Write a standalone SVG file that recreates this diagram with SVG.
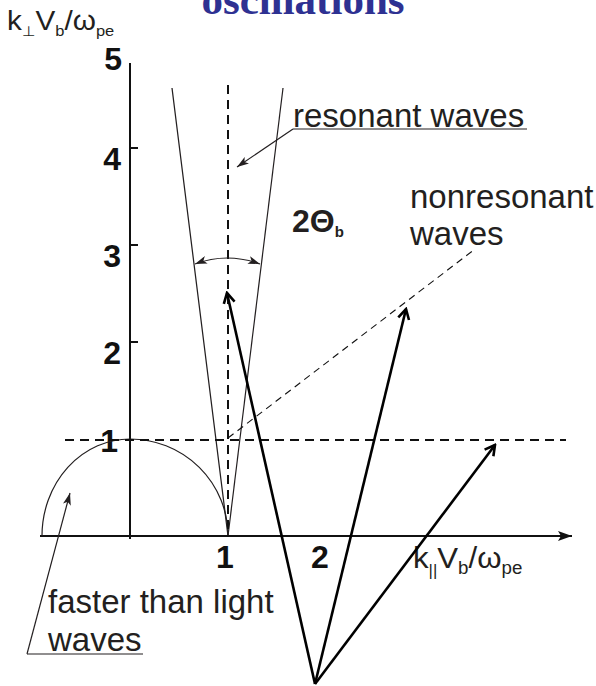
<svg xmlns="http://www.w3.org/2000/svg" width="596" height="686" viewBox="0 0 596 686">
<defs>
<style>
.lbl{font-family:"Liberation Sans",Arial,sans-serif;fill:#231f20}
.num{font-family:"Liberation Sans",Arial,sans-serif;font-weight:bold;font-size:32px;fill:#111}
.ax{stroke:#111;stroke-width:2;fill:none}
.thin{stroke:#231f20;stroke-width:1.2;fill:none}
.dash{stroke:#111;stroke-width:2;stroke-dasharray:9 6;fill:none}
.dash2{stroke:#111;stroke-width:1.1;stroke-dasharray:7 5;fill:none}
.vec{stroke:#000;stroke-width:2.6;fill:none}
</style>
<marker id="open" viewBox="0 0 14 14" refX="12" refY="7" markerWidth="14" markerHeight="14" markerUnits="userSpaceOnUse" orient="auto">
<path d="M2,1.5 L12,7 L2,12.5" fill="none" stroke="#000" stroke-width="2.6"/>
</marker>
<marker id="fill" viewBox="0 0 12 8" refX="12" refY="4" markerWidth="12" markerHeight="8" markerUnits="userSpaceOnUse" orient="auto-start-reverse">
<path d="M0,0 L12,4 L0,8 L3,4 z" fill="#231f20"/>
</marker>
<marker id="axarr" viewBox="0 0 14 10" refX="14" refY="5" markerWidth="14" markerHeight="10" markerUnits="userSpaceOnUse" orient="auto">
<path d="M0,0 L14,5 L0,10 L3,5 z" fill="#111"/>
</marker>
</defs>
<rect width="596" height="686" fill="#fff"/>
<g id="title">
<text x="303" y="14" text-anchor="middle" font-family="'Liberation Serif','Times New Roman',serif" font-weight="bold" font-size="43" fill="#2e3192">oscillations</text>
</g>
<g id="axes">
<line class="ax" x1="130" y1="63" x2="130" y2="539"/>
<line class="ax" x1="40" y1="536" x2="572" y2="536" marker-end="url(#axarr)"/>
<line class="ax" x1="130" y1="148" x2="138" y2="148"/>
<line class="ax" x1="130" y1="245" x2="138" y2="245"/>
<line class="ax" x1="130" y1="342" x2="138" y2="342"/>
<text class="num" x="122" y="70" text-anchor="end">5</text>
<text class="num" x="121" y="170" text-anchor="end">4</text>
<text class="num" x="121" y="267" text-anchor="end">3</text>
<text class="num" x="121" y="364" text-anchor="end">2</text>
<text class="num" x="118" y="452" text-anchor="end">1</text>
<text class="num" x="225" y="568" text-anchor="middle">1</text>
<text class="num" x="320" y="568" text-anchor="middle">2</text>
<text class="lbl" font-size="27" transform="translate(7,30) scale(1.1,1)">k<tspan font-size="14" dy="6">⊥</tspan><tspan dy="-6">V</tspan><tspan font-size="15" dy="6">b</tspan><tspan dy="-6">/ω</tspan><tspan font-size="15" dy="6">pe</tspan></text>
<text class="lbl" font-size="30" transform="translate(413,568) scale(1.04,1)">k<tspan font-size="16" dy="8">||</tspan><tspan dy="-8">V</tspan><tspan font-size="18" dy="6">b</tspan><tspan dy="-6">/ω</tspan><tspan font-size="18" dy="6">pe</tspan></text>
</g>
<g id="light-circle">
<path class="thin" d="M228,536 A98,97 0 0 0 130,439 A88,97 0 0 0 42,536"/>
</g>
<g id="cone">
<line class="thin" x1="228" y1="536" x2="172" y2="88"/>
<line class="thin" x1="228" y1="536" x2="283" y2="88"/>
<line class="dash" x1="228" y1="85" x2="228" y2="536"/>
<path class="thin" d="M195,264 Q227,252 260,264" marker-start="url(#fill)" marker-end="url(#fill)"/>
<text class="lbl" x="292" y="232" font-size="32" font-weight="bold">2Θ<tspan font-size="15" dy="5">b</tspan></text>
</g>
<g id="unity-line">
<line class="dash" x1="65" y1="440" x2="566" y2="440"/>
</g>
<g id="nonres-line">
<line class="dash2" x1="228" y1="438" x2="475" y2="249"/>
</g>
<g id="resonant-label">
<text class="lbl" x="293" y="127" font-size="33">resonant waves</text>
<line class="thin" x1="293" y1="129" x2="527" y2="129"/>
<line class="thin" x1="293" y1="129" x2="237" y2="167" marker-end="url(#fill)"/>
</g>
<g id="nonresonant-label">
<text class="lbl" x="410" y="208" font-size="33">nonresonant</text>
<text class="lbl" x="410" y="245" font-size="33">waves</text>
</g>
<g id="faster-label">
<text class="lbl" x="48" y="613" font-size="33">faster than light</text>
<text class="lbl" x="48" y="651" font-size="33">waves</text>
<line class="thin" x1="27" y1="654" x2="143" y2="654"/>
<line class="thin" x1="27" y1="654" x2="70" y2="493" marker-end="url(#fill)"/>
</g>
<g id="vectors">
<line class="vec" x1="315" y1="684" x2="227" y2="293" marker-end="url(#open)"/>
<line class="vec" x1="315" y1="684" x2="406" y2="309" marker-end="url(#open)"/>
<line class="vec" x1="315" y1="684" x2="495" y2="445" marker-end="url(#open)"/>
</g>
</svg>
